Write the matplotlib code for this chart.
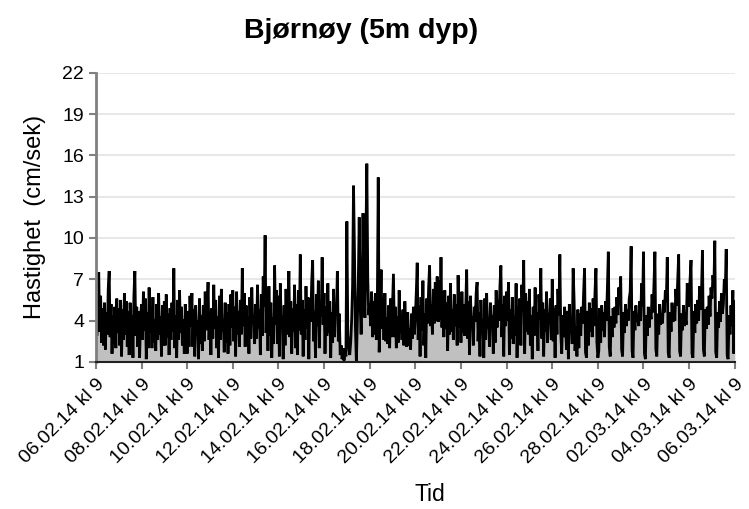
import numpy as np
import matplotlib
matplotlib.use("Agg")
import matplotlib.pyplot as plt

# hourly current speed (cm/sek), from 06.02.14 kl 9, one list per week
week1 = [6.8, 2.9, 5.6, 7.5, 3.2, 5.8, 2.4, 4.9, 2.2, 5.3, 1.9, 4.6, 3.0, 6.3, 7.6, 2.8, 5.2, 1.6, 4.4, 2.3, 5.0, 2.0, 5.6, 3.1,
         4.9, 2.2, 5.5, 1.4, 4.8, 2.6, 6.0, 3.0, 5.4, 2.1, 4.7, 1.5, 5.3, 2.7, 4.4, 1.3, 5.8, 7.6, 2.9, 5.0, 2.1, 4.7, 1.3, 4.1,
         5.2, 2.6, 6.1, 3.3, 5.6, 1.2, 4.6, 2.0, 6.4, 3.1, 5.0, 2.0, 5.7, 2.4, 4.1, 1.8, 5.2, 2.6, 6.0, 3.0, 4.3, 1.4, 5.1, 2.2,
         5.4, 2.2, 5.9, 2.8, 4.5, 1.5, 4.9, 2.6, 5.3, 3.2, 7.8, 2.0, 4.4, 1.3, 5.5, 2.6, 6.2, 3.1, 5.0, 2.2, 4.1, 1.6, 5.2, 3.1,
         1.6, 4.7, 2.1, 5.8, 3.6, 6.0, 2.1, 4.8, 1.4, 5.1, 2.9, 4.0, 1.2, 5.6, 2.3, 4.4, 1.8, 5.1, 2.5, 6.1, 3.3, 4.8, 6.8, 2.6,
         4.6, 1.5, 4.9, 2.7, 6.6, 3.4, 5.5, 2.0, 4.3, 1.3, 5.8, 2.6, 6.3, 3.2, 4.1, 1.7, 5.3, 2.4, 4.6, 1.6, 5.2, 2.2, 5.9, 3.5,
         6.2, 2.5, 5.0, 1.4, 6.1, 3.0, 4.7, 2.1, 5.5, 3.0, 7.8, 3.6, 6.0, 2.1, 5.1, 2.9, 4.3, 1.6, 5.7, 2.7, 6.4, 3.8, 4.2, 2.3]

week2 = [5.2, 2.7, 6.6, 3.4, 4.8, 1.5, 5.9, 2.9, 7.2, 5.0, 10.2, 3.1, 6.3, 1.8, 6.5, 2.9, 5.3, 1.3, 4.2, 2.3, 8.0, 3.7, 6.2, 2.3,
         5.8, 1.4, 6.7, 3.5, 4.4, 1.2, 5.1, 2.2, 6.3, 3.0, 4.6, 7.6, 2.8, 5.4, 1.6, 4.9, 3.2, 6.6, 2.0, 5.2, 1.5, 6.2, 3.3, 8.8,
         3.0, 5.5, 1.4, 4.8, 2.6, 6.5, 3.4, 5.7, 1.2, 5.6, 3.9, 6.8, 8.4, 2.5, 4.7, 1.3, 5.9, 3.6, 6.9, 2.0, 5.2, 4.3, 8.6, 3.7,
         6.0, 1.6, 5.0, 2.9, 6.7, 3.1, 5.4, 1.3, 4.6, 2.4, 6.3, 2.8, 5.1, 4.4, 7.6, 2.5, 4.5, 1.5, 2.2, 1.2, 2.0, 1.1, 1.8, 1.4,
         11.2, 3.0, 2.0, 1.5, 2.4, 4.0, 6.5, 13.8, 9.0, 3.5, 1.0, 4.0, 6.8, 11.5, 5.2, 3.0, 6.0, 11.8, 5.5, 4.2, 9.6, 15.4, 7.0, 4.4,
         5.2, 3.6, 6.1, 2.8, 5.4, 3.0, 6.0, 2.6, 4.9, 14.4, 1.7, 4.5, 7.7, 3.4, 5.6, 2.6, 6.0, 2.5, 4.2, 2.3, 5.1, 2.0, 5.6, 2.8,
         5.0, 7.4, 2.8, 5.0, 2.0, 4.3, 2.4, 6.2, 3.1, 4.0, 2.6, 4.8, 2.2, 5.4, 3.2, 2.1, 4.6, 2.2, 3.4, 1.9, 4.5, 2.7, 5.0, 3.0]

week3 = [4.2, 6.0, 8.2, 2.6, 5.1, 1.4, 5.7, 3.3, 6.9, 2.2, 4.5, 1.3, 5.6, 3.8, 6.4, 8.0, 3.6, 5.2, 3.0, 6.3, 3.8, 6.8, 4.0, 7.2,
         3.9, 6.9, 4.1, 8.6, 3.5, 6.1, 2.8, 6.2, 3.4, 5.3, 1.8, 5.8, 3.0, 6.7, 3.2, 4.8, 2.6, 5.9, 3.6, 5.2, 2.2, 7.3, 3.5, 5.6,
         2.4, 6.1, 3.1, 5.2, 2.9, 4.9, 7.7, 2.7, 5.4, 1.5, 5.8, 3.6, 4.3, 2.2, 5.0, 3.9, 6.0, 6.8, 2.5, 4.6, 1.4, 5.5, 3.3, 4.1,
         1.3, 5.6, 2.6, 6.0, 3.4, 4.2, 2.1, 5.3, 3.7, 4.4, 1.6, 5.1, 2.4, 6.2, 3.5, 5.5, 4.0, 6.5, 8.0, 2.8, 5.2, 1.4, 5.8, 3.6,
         6.1, 4.0, 6.8, 1.5, 4.8, 2.7, 5.7, 2.3, 4.3, 2.9, 6.7, 1.3, 5.0, 3.4, 5.6, 2.2, 6.6, 4.7, 8.4, 1.6, 6.0, 3.2, 5.4, 3.0,
         6.3, 2.2, 4.4, 1.2, 5.0, 2.9, 6.4, 3.1, 4.6, 1.8, 5.9, 4.1, 7.8, 2.7, 5.3, 1.4, 4.8, 3.2, 6.1, 2.4, 4.5, 3.8, 5.6, 2.6,
         7.0, 2.5, 4.9, 1.3, 5.1, 3.0, 6.3, 4.4, 8.8, 3.1, 1.6, 4.4, 2.8, 5.0, 3.6, 1.9, 4.7, 1.2, 5.2, 3.1, 4.1, 2.3, 7.8, 5.5]

week4 = [1.8, 3.6, 1.4, 4.8, 2.0, 4.5, 2.9, 5.0, 3.8, 6.0, 7.8, 1.7, 1.3, 4.7, 2.2, 5.3, 3.2, 4.9, 2.8, 5.6, 3.6, 6.1, 7.8, 2.4,
         1.3, 1.8, 4.9, 2.4, 5.1, 3.3, 4.6, 2.8, 5.4, 4.0, 6.3, 9.0, 2.1, 1.4, 4.3, 2.8, 4.9, 3.5, 5.0, 3.8, 5.7, 4.4, 6.4, 5.2,
         7.2, 1.9, 1.4, 4.6, 3.1, 5.2, 3.6, 4.8, 4.0, 5.6, 6.1, 9.4, 1.8, 1.3, 4.7, 3.3, 5.1, 3.9, 4.2, 3.6, 5.4, 4.0, 6.7, 5.0,
         9.0, 1.6, 1.2, 4.4, 2.9, 5.0, 3.5, 4.7, 4.1, 5.9, 4.6, 6.6, 9.0, 1.9, 1.4, 4.5, 3.0, 5.2, 3.7, 4.3, 3.8, 5.5, 4.6, 6.2,
         5.4, 8.6, 1.7, 1.3, 4.6, 3.2, 5.3, 3.9, 4.9, 4.0, 6.3, 5.1, 6.9, 8.8, 1.8, 1.4, 4.5, 3.3, 5.1, 3.6, 4.2, 3.7, 6.7, 5.0,
         5.8, 7.0, 8.4, 1.6, 1.3, 4.7, 3.1, 5.2, 3.8, 5.5, 4.0, 6.5, 4.8, 6.0, 9.1, 1.9, 1.4, 4.8, 3.4, 5.0, 3.7, 5.8, 4.3, 6.4,
         5.6, 7.3, 6.4, 9.8, 1.7, 1.3, 4.6, 3.5, 5.4, 3.9, 6.0, 4.5, 5.2, 7.0, 6.2, 9.2, 1.5, 1.2, 4.4, 3.0, 5.1, 3.6, 6.2, 1.6,
         5.4]

tick_labels = ["06.02.14 kl 9", "08.02.14 kl 9", "10.02.14 kl 9", "12.02.14 kl 9", "14.02.14 kl 9",
               "16.02.14 kl 9", "18.02.14 kl 9", "20.02.14 kl 9", "22.02.14 kl 9", "24.02.14 kl 9",
               "26.02.14 kl 9", "28.02.14 kl 9", "02.03.14 kl 9", "04.03.14 kl 9", "06.03.14 kl 9"]
y_ticks = [1, 4, 7, 10, 13, 16, 19, 22]

speed = np.array(week1 + week2 + week3 + week4)
hours = np.arange(len(speed))

plt.rcParams['font.family'] = ['Liberation Sans', 'DejaVu Sans']

fig = plt.figure(figsize=(7.49, 5.09), dpi=100)
ax = fig.add_axes([0.128, 0.289, 0.853, 0.568])

ax.fill_between(hours, 1, speed, color='#c0c0c0', lw=0)
ax.plot(hours, speed, color='black', lw=2.0, solid_joinstyle='miter')

ax.set_xlim(0, 672)
ax.set_ylim(1, 22)
ax.set_yticks(y_ticks)
ax.set_xticks(np.arange(0, 673, 48))
ax.set_xticklabels(tick_labels, rotation=45, ha='right', rotation_mode='anchor')
ax.tick_params(axis='both', labelsize=14, color='#808080', length=5, width=1.5)
ax.tick_params(axis='x', pad=5)
ax.grid(axis='y', color='#e8e8e8', lw=1.5)
ax.set_axisbelow(True)

for s in ['top', 'right']:
    ax.spines[s].set_visible(False)
ax.spines['left'].set_color('#808080')
ax.spines['left'].set_linewidth(2)
ax.spines['bottom'].set_color('#202020')
ax.spines['bottom'].set_linewidth(1.5)

ax.set_xlabel('Tid', fontsize=16.5)
ax.xaxis.set_label_coords(0.523, -0.42)
ax.set_ylabel('Hastighet  (cm/sek)', fontsize=17)
ax.yaxis.set_label_coords(-0.078, 0.5)
fig.text(0.482, 0.94, 'Bjørnøy (5m dyp)', fontsize=20.5, fontweight='bold',
         ha='center', va='center')

fig.savefig('out.png', dpi=100)
